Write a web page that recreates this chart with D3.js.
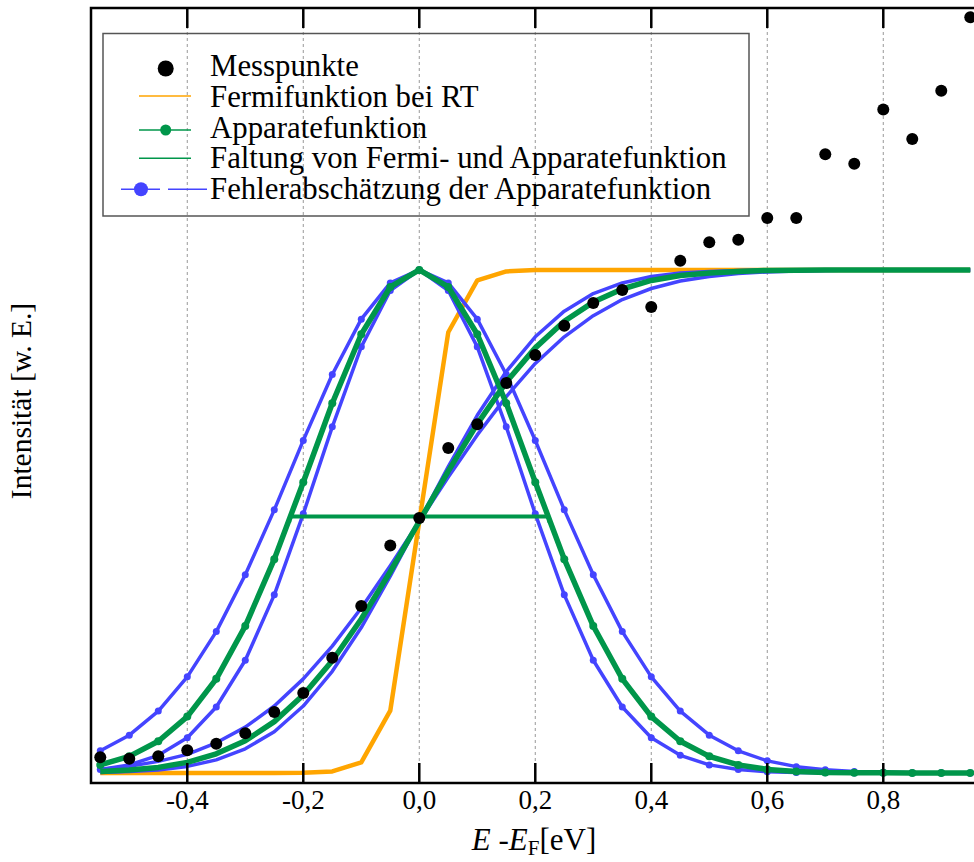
<!DOCTYPE html>
<html>
<head>
<meta charset="utf-8">
<script src="https://cdn.jsdelivr.net/npm/d3@7"></script>
<style>
  html, body { margin: 0; padding: 0; background: #fff; }
  svg { display: block; font-family: "Liberation Serif", "DejaVu Serif", serif; }
</style>
</head>
<body>
<svg id="chart" width="974" height="862"></svg>
<script>
// ---------- data ----------
const energy = [-0.55,-0.50,-0.45,-0.40,-0.35,-0.30,-0.25,-0.20,-0.15,-0.10,-0.05,0.00,0.05,0.10,0.15,0.20,0.25,0.30,0.35,0.40,0.45,0.50,0.55,0.60,0.65,0.70,0.75,0.80,0.85,0.90,0.95];
const measured = [0.031,0.028,0.033,0.045,0.058,0.079,0.121,0.159,0.229,0.332,0.452,0.507,0.646,0.693,0.775,0.831,0.889,0.934,0.960,0.926,1.018,1.055,1.060,1.103,1.103,1.230,1.211,1.319,1.260,1.356,1.502];
const fermiRT = [0,0,0,0,0,0,0.0001,0.0004,0.003,0.021,0.124,0.500,0.876,0.979,0.997,0.9996,1,1,1,1,1,1,1,1,1,1,1,1,1,1,1];
const apparatus = [0.016,0.033,0.063,0.112,0.187,0.292,0.425,0.578,0.735,0.872,0.966,1.000,0.966,0.872,0.735,0.578,0.425,0.292,0.187,0.112,0.063,0.033,0.016,0.007,0.003,0.001,0.0005,0.0002,0.0001,0,0];
const apparatusNarrow = [0.007,0.016,0.035,0.070,0.131,0.224,0.354,0.515,0.688,0.847,0.959,1.000,0.959,0.847,0.688,0.515,0.354,0.224,0.131,0.070,0.035,0.016,0.007,0.0025,0.0009,0.0003,0.0001,0,0,0,0];
const apparatusWide = [0.044,0.075,0.123,0.191,0.281,0.394,0.523,0.661,0.792,0.902,0.974,1.000,0.974,0.902,0.792,0.661,0.523,0.394,0.281,0.191,0.123,0.075,0.044,0.024,0.0125,0.0062,0.0029,0.0013,0.0006,0.0002,0.0001];
const convolution = [0.003,0.006,0.011,0.021,0.038,0.064,0.102,0.155,0.223,0.306,0.400,0.500,0.600,0.694,0.777,0.845,0.898,0.936,0.962,0.979,0.989,0.994,0.997,0.999,0.9995,0.9998,0.9999,1,1,1,1];
const convolutionNarrow = [0.001,0.003,0.006,0.013,0.026,0.048,0.082,0.133,0.202,0.289,0.391,0.500,0.609,0.711,0.798,0.867,0.918,0.953,0.974,0.987,0.994,0.997,0.999,0.9996,0.9998,1,1,1,1,1,1];
const convolutionWide = [0.007,0.013,0.023,0.037,0.060,0.091,0.133,0.187,0.252,0.328,0.412,0.500,0.588,0.672,0.748,0.814,0.867,0.909,0.941,0.963,0.978,0.987,0.993,0.996,0.998,0.999,0.9996,0.9998,0.9999,1,1];
const halfMaxX = [-0.222, 0.222];
const halfMaxY = 0.51;
const xTicks = [-0.4,-0.2,0.0,0.2,0.4,0.6,0.8];
const xTickLabels = ["-0,4","-0,2","0,0","0,2","0,4","0,6","0,8"];
const legendLabels = ["Messpunkte","Fermifunktion bei RT","Apparatefunktion","Faltung von Fermi- und Apparatefunktion","Fehlerabschätzung der Apparatefunktion"];

// ---------- layout ----------
const pLeft = 91, pTop = 8, pBottom = 783;
const xDomain = [-0.566, 0.98];
const x = d3.scaleLinear().domain(xDomain).range([pLeft, pLeft + (xDomain[1]-xDomain[0])*580]);
const y = d3.scaleLinear().domain([-0.02, 1.5206]).range([pBottom, pTop]);
const pRight = x(xDomain[1]);

const ORANGE = "#FFA500", GREEN = "#00964A", BLUE = "#4444FF";
const svg = d3.select("#chart");

svg.append("defs").append("clipPath").attr("id","plotclip")
  .append("rect").attr("x", pLeft).attr("y", pTop).attr("width", pRight-pLeft).attr("height", pBottom-pTop);

// grid
svg.append("g").selectAll("line").data(xTicks).join("line")
  .attr("x1", d => x(d)).attr("x2", d => x(d))
  .attr("y1", pTop).attr("y2", pBottom)
  .attr("stroke", "#999").attr("stroke-width", 1).attr("stroke-dasharray", "3,3");

const plot = svg.append("g").attr("clip-path", "url(#plotclip)");
const line = vals => d3.line().x((d,i) => x(energy[i])).y(d => y(d))(vals);

function drawLine(vals, color, width) {
  plot.append("path").attr("d", line(vals)).attr("fill","none")
    .attr("stroke", color).attr("stroke-width", width).attr("stroke-linejoin","round");
}
function drawDots(vals, color, r) {
  plot.append("g").selectAll("circle").data(vals).join("circle")
    .attr("cx", (d,i) => x(energy[i])).attr("cy", d => y(d)).attr("r", r).attr("fill", color);
}

drawLine(fermiRT, ORANGE, 4.5);
drawLine(apparatusNarrow, BLUE, 3.5); drawDots(apparatusNarrow, BLUE, 3.5);
drawLine(apparatusWide, BLUE, 3.5); drawDots(apparatusWide, BLUE, 3.5);
drawLine(convolutionNarrow, BLUE, 3.5);
drawLine(convolutionWide, BLUE, 3.5);
drawLine(apparatus, GREEN, 5.5); drawDots(apparatus, GREEN, 4);
drawLine(convolution, GREEN, 5.5);

// half maximum line
plot.append("line").attr("x1", x(halfMaxX[0])).attr("x2", x(halfMaxX[1]))
  .attr("y1", y(halfMaxY)).attr("y2", y(halfMaxY)).attr("stroke", GREEN).attr("stroke-width", 4);
plot.append("g").selectAll("line").data(halfMaxX).join("line")
  .attr("x1", d => x(d)).attr("x2", d => x(d))
  .attr("y1", y(halfMaxY)-3).attr("y2", y(halfMaxY)+6).attr("stroke", GREEN).attr("stroke-width", 1.5);

drawDots(measured, "#000", 6);

// frame
svg.append("path")
  .attr("d", `M${pRight},${pTop}H${pLeft}V${pBottom}H${pRight}`)
  .attr("fill","none").attr("stroke","#000").attr("stroke-width", 2.5);

// ticks (inside, top and bottom)
svg.append("g").selectAll("line").data(xTicks).join("line")
  .attr("x1", d => x(d)).attr("x2", d => x(d)).attr("y1", pTop).attr("y2", pTop+20)
  .attr("stroke","#000").attr("stroke-width", 2.5);
svg.append("g").selectAll("line").data(xTicks).join("line")
  .attr("x1", d => x(d)).attr("x2", d => x(d)).attr("y1", pBottom).attr("y2", pBottom-20)
  .attr("stroke","#000").attr("stroke-width", 2.5);

// tick labels
svg.append("g").selectAll("text").data(xTicks).join("text")
  .attr("x", d => x(d)).attr("y", 809).attr("text-anchor","middle")
  .attr("font-size", 27).attr("fill","#000")
  .text((d,i) => xTickLabels[i]);

// x axis title
const xt = svg.append("text").attr("x", 534).attr("y", 850).attr("text-anchor","middle")
  .attr("font-size", 31).attr("fill","#000");
xt.append("tspan").attr("font-style","italic").text("E");
xt.append("tspan").text(" -");
xt.append("tspan").attr("font-style","italic").text("E");
xt.append("tspan").attr("font-size", 21).attr("dy", 5).text("F");
xt.append("tspan").attr("dy", -5).text("[eV]");

// y axis title
svg.append("text").attr("transform","translate(31,401) rotate(-90)")
  .attr("text-anchor","middle").attr("font-size", 29.5).attr("fill","#000")
  .text("Intensität [w. E.]");

// legend
const lg = svg.append("g");
lg.append("rect").attr("x", 103).attr("y", 33.5).attr("width", 646).attr("height", 182.5)
  .attr("fill","none").attr("stroke","#555").attr("stroke-width", 1.5);
const baselines = [76, 106.7, 137.5, 168.3, 199.2];
lg.selectAll("text").data(legendLabels).join("text")
  .attr("x", 210).attr("y", (d,i) => baselines[i]).attr("font-size", 30.8).attr("fill","#000")
  .text(d => d);
lg.append("circle").attr("cx", 165.7).attr("cy", 68.5).attr("r", 8).attr("fill","#000");
lg.append("line").attr("x1", 139).attr("x2", 191).attr("y1", 96).attr("y2", 96).attr("stroke", ORANGE).attr("stroke-width", 1.5);
lg.append("line").attr("x1", 139).attr("x2", 191).attr("y1", 130).attr("y2", 130).attr("stroke", GREEN).attr("stroke-width", 1.5);
lg.append("circle").attr("cx", 165.7).attr("cy", 130).attr("r", 5.5).attr("fill", GREEN);
lg.append("line").attr("x1", 139).attr("x2", 191).attr("y1", 158.3).attr("y2", 158.3).attr("stroke", GREEN).attr("stroke-width", 1.5);
lg.append("line").attr("x1", 121).attr("x2", 160).attr("y1", 189.3).attr("y2", 189.3).attr("stroke", BLUE).attr("stroke-width", 1.5);
lg.append("line").attr("x1", 168).attr("x2", 207).attr("y1", 189.3).attr("y2", 189.3).attr("stroke", BLUE).attr("stroke-width", 1.5);
lg.append("circle").attr("cx", 141).attr("cy", 189.3).attr("r", 7).attr("fill", BLUE);
</script>
</body>
</html>
